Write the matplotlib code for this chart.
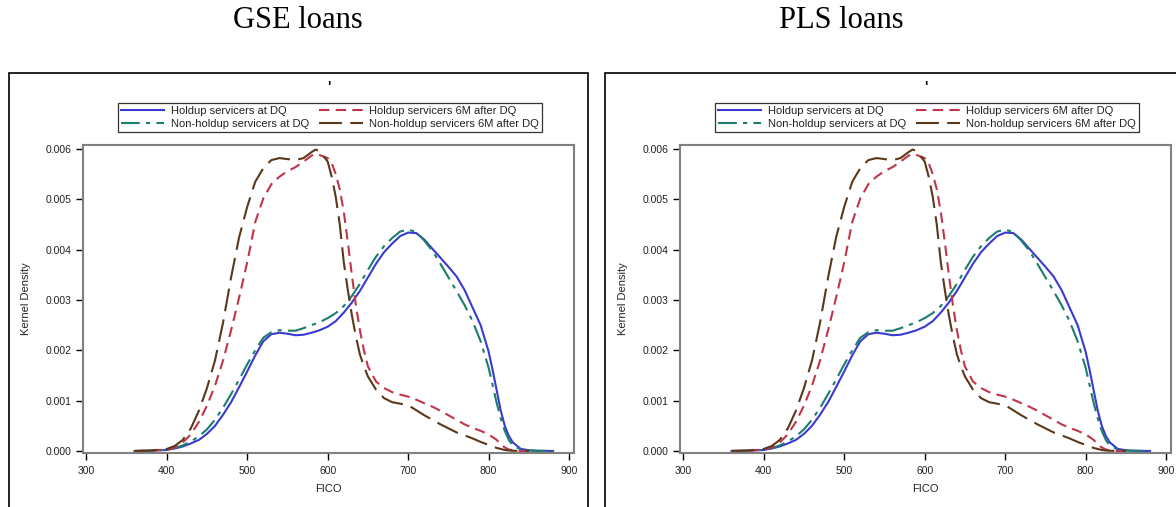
import matplotlib.pyplot as plt
from matplotlib.patches import Rectangle
import numpy as np

# FICO grid / densities
fico_dq = [360, 380, 400, 410, 420, 430, 440, 450, 460, 470, 480, 490, 500, 510, 520,
           530, 540, 550, 560, 570, 580, 590, 600, 610, 620, 630, 640, 650, 660, 670,
           680, 690, 700, 710, 720, 730, 740, 750, 760, 770, 780, 790, 800, 805, 810,
           815, 820, 825, 830, 840, 850, 860, 880]
holdup_dq = [0, 0.005, 0.02, 0.05, 0.09, 0.15, 0.22, 0.34, 0.50, 0.72, 0.97, 1.27, 1.58,
             1.90, 2.18, 2.32, 2.35, 2.33, 2.30, 2.31, 2.35, 2.40, 2.47, 2.58, 2.75, 2.95,
             3.18, 3.45, 3.72, 3.95, 4.12, 4.27, 4.34, 4.33, 4.20, 4.02, 3.84, 3.66, 3.47,
             3.20, 2.85, 2.50, 1.97, 1.60, 1.20, 0.80, 0.50, 0.30, 0.17, 0.04, 0.015,
             0.005, 0]
nonholdup_dq = [0, 0.005, 0.025, 0.06, 0.11, 0.19, 0.29, 0.43, 0.62, 0.86, 1.13, 1.42,
                1.72, 2.00, 2.25, 2.36, 2.40, 2.39, 2.39, 2.44, 2.50, 2.56, 2.64, 2.74,
                2.88, 3.08, 3.32, 3.60, 3.86, 4.07, 4.23, 4.36, 4.40, 4.35, 4.18, 3.98,
                3.72, 3.45, 3.18, 2.90, 2.58, 2.18, 1.65, 1.30, 0.95, 0.65, 0.40, 0.22,
                0.11, 0.03, 0.01, 0.003, 0]

fico_6m = [360, 380, 400, 410, 420, 430, 440, 450, 460, 470, 480, 490, 500, 510, 520,
           530, 540, 550, 560, 570, 580, 585, 590, 600, 605, 610, 615, 620, 625, 630,
           635, 640, 645, 650, 660, 670, 680, 690, 700, 710, 720, 730, 740, 750, 760,
           770, 780, 790, 800, 810, 815, 820, 825, 830, 840, 850]
holdup_6m = [0, 0.005, 0.03, 0.07, 0.17, 0.33, 0.58, 0.90, 1.30, 1.80, 2.40, 3.05, 3.75,
             4.55, 5.02, 5.30, 5.45, 5.56, 5.64, 5.75, 5.87, 5.90, 5.88, 5.82, 5.72,
             5.50, 5.20, 4.75, 4.15, 3.50, 2.90, 2.40, 2.00, 1.68, 1.38, 1.25, 1.17,
             1.12, 1.08, 1.02, 0.95, 0.88, 0.80, 0.71, 0.62, 0.53, 0.46, 0.40, 0.33,
             0.22, 0.13, 0.07, 0.03, 0.01, 0, 0]
nonholdup_6m = [0, 0.01, 0.04, 0.10, 0.22, 0.45, 0.80, 1.25, 1.80, 2.55, 3.45, 4.25,
                4.85, 5.35, 5.62, 5.78, 5.82, 5.80, 5.78, 5.82, 5.94, 5.99, 5.96, 5.75,
                5.45, 5.05, 4.50, 3.75, 3.20, 2.70, 2.28, 1.92, 1.68, 1.48, 1.22, 1.05,
                0.97, 0.94, 0.91, 0.81, 0.71, 0.62, 0.53, 0.45, 0.37, 0.31, 0.25, 0.18,
                0.12, 0.06, 0.04, 0.02, 0.01, 0.005, 0, 0]

panel_titles = ["GSE loans", "PLS loans"]
series_labels = ["Holdup servicers at DQ", "Non-holdup servicers at DQ",
                 "Holdup servicers 6M after DQ", "Non-holdup servicers 6M after DQ"]

W, H = 1176, 507
fig = plt.figure(figsize=(W / 100, H / 100), dpi=100)
plt.rcParams['font.family'] = ['Liberation Sans', 'DejaVu Sans']

def fx(px):
    return px / W

def fy(py):
    return 1 - py / H

# outer frames around each panel
fig.patches.append(Rectangle((fx(9), fy(512)), fx(588 - 9), fy(73) - fy(512),
                             transform=fig.transFigure, fill=False, ec='black', lw=1.2))
fig.patches.append(Rectangle((fx(605), fy(512)), fx(1185 - 605), fy(73) - fy(512),
                             transform=fig.transFigure, fill=False, ec='black', lw=1.2))

axes_left = [83, 680]
title_x = [298, 841]
legend_left = [118, 715]

for k in range(2):
    ax = fig.add_axes([fx(axes_left[k]), fy(453), fx(491), fy(145) - fy(453)])

    ax.plot(fico_dq, np.array(holdup_dq) / 1000, color='#3a3ad2', lw=1.5, ls='-',
            label=series_labels[0])
    ax.plot(fico_dq, np.array(nonholdup_dq) / 1000, color='#1b7d6e', lw=1.5,
            dashes=(9, 3, 2, 3), label=series_labels[1])
    ax.plot(fico_6m, np.array(holdup_6m) / 1000, color='#c0354c', lw=1.5,
            dashes=(5, 3), label=series_labels[2])
    ax.plot(fico_6m, np.array(nonholdup_6m) / 1000, color='#5a3819', lw=1.5,
            dashes=(11, 4), label=series_labels[3])

    ax.set_xlim(296, 906)
    ax.set_ylim(-0.00004, 0.00608)
    ax.set_xticks([300, 400, 500, 600, 700, 800, 900])
    ax.set_yticks([0, 0.001, 0.002, 0.003, 0.004, 0.005, 0.006])
    ax.set_yticklabels(["0.000", "0.001", "0.002", "0.003", "0.004", "0.005", "0.006"])
    ax.tick_params(direction='out', length=5, width=1, color='black',
                   labelsize=7.5, labelcolor='#222222')
    ax.tick_params(axis='x', pad=4)
    ax.tick_params(axis='y', pad=3)
    for s in ax.spines.values():
        s.set_color('#808080')
        s.set_linewidth(1.5)

    ax.set_xlabel("FICO", fontsize=8, color='#222222', va='center')
    ax.xaxis.set_label_coords(0.5, -0.117)
    ax.set_ylabel("Kernel Density", fontsize=8, color='#222222', va='center')
    ax.yaxis.set_label_coords(-0.117, 0.5)

    ax.text(0.5, 1.188, "'", transform=ax.transAxes, ha='center', va='center',
            fontsize=10, fontweight='bold', color='black')

    h, l = ax.get_legend_handles_labels()
    leg = ax.legend(h, l, ncol=2, loc='upper left',
                    bbox_to_anchor=(fx(legend_left[k]), fy(103)),
                    bbox_transform=fig.transFigure, borderaxespad=0,
                    fontsize=8, handlelength=3.9, handletextpad=0.6,
                    columnspacing=0.9, labelspacing=0.25, borderpad=0.28,
                    frameon=True, fancybox=False, edgecolor='black')
    leg.get_frame().set_linewidth(0.9)
    for t in leg.get_texts():
        t.set_color('#222222')

    fig.text(fx(title_x[k]), fy(21), panel_titles[k], ha='center', va='center',
             fontsize=22, family='Liberation Serif')

fig.savefig("out.png", dpi=100)
